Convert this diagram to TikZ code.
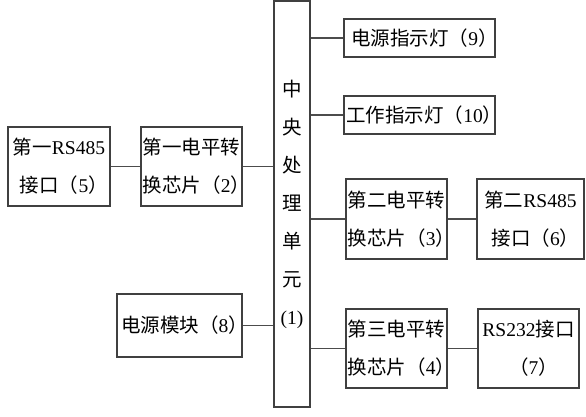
\documentclass[tikz,border=0pt]{standalone}
\usepackage{fontspec}
\setmainfont{Liberation Serif}
\newfontfamily\cjk{Noto Sans CJK SC}
\usetikzlibrary{positioning}
\newcommand{\lat}[1]{{\rmfamily #1}}
\newcommand{\pnum}[1]{（\lat{#1}）\kern-.5em}
\tikzset{
  blk/.style={
    shape = rectangle,
    draw = black!75,
    line width = 1.1pt,
    inner sep = 0pt,
    align = center,
    font = \cjk\fontsize{19.5}{38}\selectfont
  },
  wire/.style={
    draw = black!70,
    line width = 1.1pt
  },
}

\begin{document}
\begin{tikzpicture}[x=1pt,y=-1pt]
\useasboundingbox (0,0) rectangle (586,416);
\node[blk, minimum width=36pt, minimum height=406pt] (cpu) at (292,204)
  {中\\央\\处\\理\\单\\元\\\lat{(1)}};
% left side
\node[blk, minimum width=102pt, minimum height=79pt] (rs1) at (59,166.5) {第一\lat{RS485}\\接口\pnum{5}};
\node[blk, minimum width=101pt, minimum height=79pt] (lv1) at (191.5,166.5) {第一电平转\\换芯片\pnum{2}};
\node[blk, minimum width=125pt, minimum height=63pt] (pwr) at (179.5,325.5) {电源模块\pnum{8}};
% right side
\node[blk, minimum width=151pt, minimum height=38pt] (led1) at (419.5,38) {电源指示灯\pnum{9}};
\node[blk, minimum width=151pt, minimum height=38pt] (led2) at (419.5,115) {工作指示灯\pnum{10}};
\node[blk, minimum width=101pt, minimum height=80pt] (lv2) at (396.5,219) {第二电平转\\换芯片\pnum{3}};
\node[blk, minimum width=107pt, minimum height=80pt] (rs2) at (530.5,219) {第二\lat{RS485}\\接口\pnum{6}};
\node[blk, minimum width=101pt, minimum height=79pt] (lv3) at (396.5,348.5) {第三电平转\\换芯片\pnum{4}};
\node[blk, minimum width=101pt, minimum height=79pt] (rs3) at (528.5,348.5) {\lat{RS232}接口\\\pnum{7}};
% connections
\draw[wire] (rs1) -- (lv1);
\foreach \n in {lv1,pwr}
  \draw[wire] (\n.east) -- (\n.east -| cpu.west);
\foreach \n in {led1,led2,lv2,lv3}
  \draw[wire] (\n.west) -- (\n.west -| cpu.east);
\draw[wire] (lv2) -- (rs2);
\draw[wire] (lv3) -- (rs3);
\end{tikzpicture}
\end{document}
